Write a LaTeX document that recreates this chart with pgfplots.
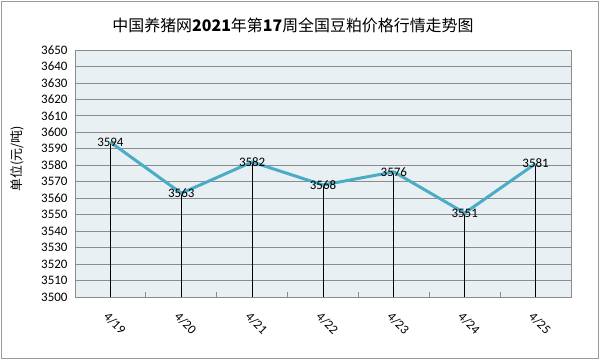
\documentclass[border=0pt]{standalone}
\usepackage{fontspec}
\setmainfont{Carlito}
\newfontfamily\cjk{Noto Sans CJK SC}
\usepackage{pgfplots}
\pgfplotsset{compat=1.18}
\definecolor{linec}{HTML}{4BACC6}
\definecolor{plotbg}{HTML}{E9F0F4}
\definecolor{gridc}{HTML}{8C8C8C}
\pgfplotstableread{
x y
0 3594
1 3563
2 3582
3 3568
4 3576
5 3551
6 3581
}\datatable
\begin{document}
\begin{tikzpicture}
\path[use as bounding box] (0bp,0bp) rectangle (600bp,360bp);
\draw[gray!80, line width=1bp] (1.5bp,1.5bp) rectangle (598.5bp,358.5bp);
\node[font=\fontsize{16}{18}\selectfont\cjk] at (293bp,335bp) {中国养猪网\textbf{2021}年第\textbf{17}周全国豆粕价格行情走势图};
\begin{axis}[
  at={(75bp,63bp)}, anchor=south west,
  scale only axis, width=496bp, height=247bp,
  xmin=-0.5, xmax=6.5, ymin=3500, ymax=3650,
  ytick={3500,3510,...,3650},
  xtick={0,...,6},
  xticklabels={4/19,4/20,4/21,4/22,4/23,4/24,4/25},
  minor xtick={-0.5,0.5,...,6.5},
  tick pos=left, tick align=inside,
  major tick length=0pt, minor tick length=5bp,
  minor x tick style={gridc, line width=0.8bp},
  scaled y ticks=false,
  /pgf/number format/1000 sep={},
  /pgf/number format/assume math mode=true,
  ymajorgrids,
  major grid style={gridc, line width=0.8bp},
  axis line style={gridc, line width=0.8bp},
  axis background/.style={fill=plotbg},
  yticklabel style={font=\fontsize{13}{15}\selectfont, xshift=-4bp},
  xticklabel style={font=\fontsize{13}{15}\selectfont, xshift=-1bp, yshift=-14bp, rotate=-45, anchor=north west, inner sep=0pt},
  ylabel={\cjk 单位(元/吨)},
  ylabel style={font=\fontsize{13}{15}\selectfont, at={(axis description cs:0,0.56)}, anchor=center, rotate=0, yshift=58bp},
  clip=true,
]
\addplot[black, line width=0.8bp, ycomb] table[x=x,y=y] {\datatable};
\addplot[linec, line width=3bp, line join=round] table[x=x,y=y] {\datatable};
\addplot[draw=none, nodes near coords, point meta=y,
  every node near coord/.append style={anchor=center, font=\fontsize{13}{15}\selectfont, text=black}]
  table[x=x,y=y] {\datatable};
\end{axis}
\end{tikzpicture}
\end{document}
